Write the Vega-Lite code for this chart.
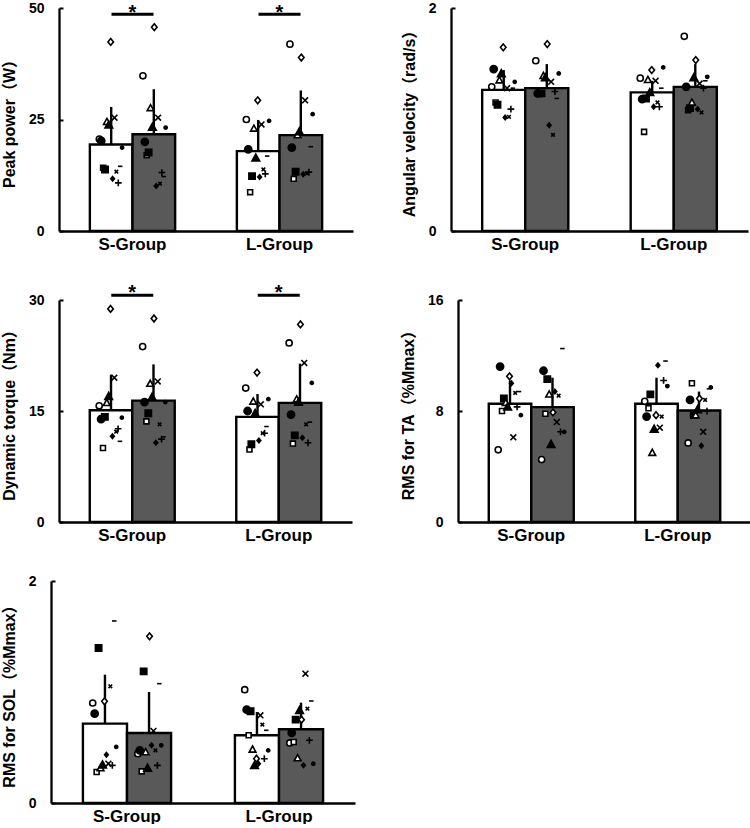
{
"$schema": "https://vega.github.io/schema/vega-lite/v6.json",
"padding": {"left": 1, "top": 1, "right": 0, "bottom": 0},
"spacing": 31,
"datasets": {
"sig": [{"group":"S-Group"},{"group":"L-Group"}],
"power_bars": [{"group":"S-Group","cond":"c1","mean":19.4,"upper":27.8},{"group":"S-Group","cond":"c2","mean":21.7,"upper":31.8},{"group":"L-Group","cond":"c1","mean":17.9,"upper":24.9},{"group":"L-Group","cond":"c2","mean":21.5,"upper":31.5}],
"velocity_bars": [{"group":"S-Group","cond":"c1","mean":1.266,"upper":1.443},{"group":"S-Group","cond":"c2","mean":1.281,"upper":1.497},{"group":"L-Group","cond":"c1","mean":1.243,"upper":1.347},{"group":"L-Group","cond":"c2","mean":1.293,"upper":1.497}],
"torque_bars": [{"group":"S-Group","cond":"c1","mean":15.1,"upper":19.9},{"group":"S-Group","cond":"c2","mean":16.4,"upper":21.3},{"group":"L-Group","cond":"c1","mean":14.2,"upper":17.3},{"group":"L-Group","cond":"c2","mean":16.1,"upper":21.4}],
"ta_bars": [{"group":"S-Group","cond":"c1","mean":8.52,"upper":10.2},{"group":"S-Group","cond":"c2","mean":8.28,"upper":10.4},{"group":"L-Group","cond":"c1","mean":8.52,"upper":10.4},{"group":"L-Group","cond":"c2","mean":8.04,"upper":9.4}],
"sol_bars": [{"group":"S-Group","cond":"c1","mean":0.715,"upper":1.156},{"group":"S-Group","cond":"c2","mean":0.631,"upper":1.0},{"group":"L-Group","cond":"c1","mean":0.61,"upper":0.82},{"group":"L-Group","cond":"c2","mean":0.664,"upper":0.904}],
"power": [
{"group":"S-Group","cond":"c1","subject":1,"obs":"c1-1","value":20.6},{"group":"S-Group","cond":"c1","subject":2,"obs":"c1-2","value":20.2},{"group":"S-Group","cond":"c1","subject":3,"obs":"c1-3","value":14.2},{"group":"S-Group","cond":"c1","subject":4,"obs":"c1-4","value":13.8},{"group":"S-Group","cond":"c1","subject":5,"obs":"c1-5","value":24.5},{"group":"S-Group","cond":"c1","subject":6,"obs":"c1-6","value":23.8},{"group":"S-Group","cond":"c1","subject":7,"obs":"c1-7","value":42.4},{"group":"S-Group","cond":"c1","subject":8,"obs":"c1-8","value":11.7},{"group":"S-Group","cond":"c1","subject":9,"obs":"c1-9","value":25.4},{"group":"S-Group","cond":"c1","subject":10,"obs":"c1-10","value":13.3},{"group":"S-Group","cond":"c1","subject":11,"obs":"c1-11","value":10.8},{"group":"S-Group","cond":"c1","subject":12,"obs":"c1-12","value":14.5},{"group":"S-Group","cond":"c1","subject":13,"obs":"c1-13","value":18.7},
{"group":"S-Group","cond":"c2","subject":1,"obs":"c2-1","value":34.8},{"group":"S-Group","cond":"c2","subject":2,"obs":"c2-2","value":20.0},{"group":"S-Group","cond":"c2","subject":3,"obs":"c2-3","value":17.0},{"group":"S-Group","cond":"c2","subject":4,"obs":"c2-4","value":17.6},{"group":"S-Group","cond":"c2","subject":5,"obs":"c2-5","value":27.6},{"group":"S-Group","cond":"c2","subject":6,"obs":"c2-6","value":23.3},{"group":"S-Group","cond":"c2","subject":7,"obs":"c2-7","value":45.7},{"group":"S-Group","cond":"c2","subject":8,"obs":"c2-8","value":10.1},{"group":"S-Group","cond":"c2","subject":9,"obs":"c2-9","value":25.4},{"group":"S-Group","cond":"c2","subject":10,"obs":"c2-10","value":10.6},{"group":"S-Group","cond":"c2","subject":11,"obs":"c2-11","value":13.1},{"group":"S-Group","cond":"c2","subject":12,"obs":"c2-12","value":12.2},{"group":"S-Group","cond":"c2","subject":13,"obs":"c2-13","value":23.2},
{"group":"L-Group","cond":"c1","subject":1,"obs":"c1-1","value":25.0},{"group":"L-Group","cond":"c1","subject":2,"obs":"c1-2","value":18.3},{"group":"L-Group","cond":"c1","subject":3,"obs":"c1-3","value":8.7},{"group":"L-Group","cond":"c1","subject":4,"obs":"c1-4","value":12.3},{"group":"L-Group","cond":"c1","subject":5,"obs":"c1-5","value":23.0},{"group":"L-Group","cond":"c1","subject":6,"obs":"c1-6","value":16.4},{"group":"L-Group","cond":"c1","subject":7,"obs":"c1-7","value":29.3},{"group":"L-Group","cond":"c1","subject":8,"obs":"c1-8","value":12.1},{"group":"L-Group","cond":"c1","subject":9,"obs":"c1-9","value":23.9},{"group":"L-Group","cond":"c1","subject":10,"obs":"c1-10","value":13.8},{"group":"L-Group","cond":"c1","subject":11,"obs":"c1-11","value":12.8},{"group":"L-Group","cond":"c1","subject":12,"obs":"c1-12","value":16.8},{"group":"L-Group","cond":"c1","subject":13,"obs":"c1-13","value":24.7},
{"group":"L-Group","cond":"c2","subject":1,"obs":"c2-1","value":41.9},{"group":"L-Group","cond":"c2","subject":2,"obs":"c2-2","value":18.7},{"group":"L-Group","cond":"c2","subject":3,"obs":"c2-3","value":11.7},{"group":"L-Group","cond":"c2","subject":4,"obs":"c2-4","value":13.3},{"group":"L-Group","cond":"c2","subject":5,"obs":"c2-5","value":21.5},{"group":"L-Group","cond":"c2","subject":6,"obs":"c2-6","value":22.3},{"group":"L-Group","cond":"c2","subject":7,"obs":"c2-7","value":38.9},{"group":"L-Group","cond":"c2","subject":8,"obs":"c2-8","value":12.7},{"group":"L-Group","cond":"c2","subject":9,"obs":"c2-9","value":29.3},{"group":"L-Group","cond":"c2","subject":10,"obs":"c2-10","value":12.9},{"group":"L-Group","cond":"c2","subject":11,"obs":"c2-11","value":13.2},{"group":"L-Group","cond":"c2","subject":12,"obs":"c2-12","value":18.9},{"group":"L-Group","cond":"c2","subject":13,"obs":"c2-13","value":26.2}
],
"velocity": [
{"group":"S-Group","cond":"c1","subject":1,"obs":"c1-1","value":1.293},{"group":"S-Group","cond":"c1","subject":2,"obs":"c1-2","value":1.452},{"group":"S-Group","cond":"c1","subject":3,"obs":"c1-3","value":1.153},{"group":"S-Group","cond":"c1","subject":4,"obs":"c1-4","value":1.132},{"group":"S-Group","cond":"c1","subject":5,"obs":"c1-5","value":1.353},{"group":"S-Group","cond":"c1","subject":6,"obs":"c1-6","value":1.413},{"group":"S-Group","cond":"c1","subject":7,"obs":"c1-7","value":1.647},{"group":"S-Group","cond":"c1","subject":8,"obs":"c1-8","value":1.018},{"group":"S-Group","cond":"c1","subject":9,"obs":"c1-9","value":1.281},{"group":"S-Group","cond":"c1","subject":10,"obs":"c1-10","value":1.024},{"group":"S-Group","cond":"c1","subject":11,"obs":"c1-11","value":1.093},{"group":"S-Group","cond":"c1","subject":12,"obs":"c1-12","value":1.281},{"group":"S-Group","cond":"c1","subject":13,"obs":"c1-13","value":1.338},
{"group":"S-Group","cond":"c2","subject":1,"obs":"c2-1","value":1.527},{"group":"S-Group","cond":"c2","subject":2,"obs":"c2-2","value":1.234},{"group":"S-Group","cond":"c2","subject":3,"obs":"c2-3","value":1.228},{"group":"S-Group","cond":"c2","subject":4,"obs":"c2-4","value":1.234},{"group":"S-Group","cond":"c2","subject":5,"obs":"c2-5","value":1.392},{"group":"S-Group","cond":"c2","subject":6,"obs":"c2-6","value":1.377},{"group":"S-Group","cond":"c2","subject":7,"obs":"c2-7","value":1.677},{"group":"S-Group","cond":"c2","subject":8,"obs":"c2-8","value":0.949},{"group":"S-Group","cond":"c2","subject":9,"obs":"c2-9","value":1.338},{"group":"S-Group","cond":"c2","subject":10,"obs":"c2-10","value":0.862},{"group":"S-Group","cond":"c2","subject":11,"obs":"c2-11","value":1.251},{"group":"S-Group","cond":"c2","subject":12,"obs":"c2-12","value":1.189},{"group":"S-Group","cond":"c2","subject":13,"obs":"c2-13","value":1.413},
{"group":"L-Group","cond":"c1","subject":1,"obs":"c1-1","value":1.371},{"group":"L-Group","cond":"c1","subject":2,"obs":"c1-2","value":1.183},{"group":"L-Group","cond":"c1","subject":3,"obs":"c1-3","value":0.889},{"group":"L-Group","cond":"c1","subject":4,"obs":"c1-4","value":1.189},{"group":"L-Group","cond":"c1","subject":5,"obs":"c1-5","value":1.356},{"group":"L-Group","cond":"c1","subject":6,"obs":"c1-6","value":1.243},{"group":"L-Group","cond":"c1","subject":7,"obs":"c1-7","value":1.443},{"group":"L-Group","cond":"c1","subject":8,"obs":"c1-8","value":1.114},{"group":"L-Group","cond":"c1","subject":9,"obs":"c1-9","value":1.347},{"group":"L-Group","cond":"c1","subject":10,"obs":"c1-10","value":1.153},{"group":"L-Group","cond":"c1","subject":11,"obs":"c1-11","value":1.114},{"group":"L-Group","cond":"c1","subject":12,"obs":"c1-12","value":1.281},{"group":"L-Group","cond":"c1","subject":13,"obs":"c1-13","value":1.467},
{"group":"L-Group","cond":"c2","subject":1,"obs":"c2-1","value":1.746},{"group":"L-Group","cond":"c2","subject":2,"obs":"c2-2","value":1.293},{"group":"L-Group","cond":"c2","subject":3,"obs":"c2-3","value":1.084},{"group":"L-Group","cond":"c2","subject":4,"obs":"c2-4","value":1.102},{"group":"L-Group","cond":"c2","subject":5,"obs":"c2-5","value":1.153},{"group":"L-Group","cond":"c2","subject":6,"obs":"c2-6","value":1.377},{"group":"L-Group","cond":"c2","subject":7,"obs":"c2-7","value":1.533},{"group":"L-Group","cond":"c2","subject":8,"obs":"c2-8","value":1.093},{"group":"L-Group","cond":"c2","subject":9,"obs":"c2-9","value":1.323},{"group":"L-Group","cond":"c2","subject":10,"obs":"c2-10","value":1.063},{"group":"L-Group","cond":"c2","subject":11,"obs":"c2-11","value":1.281},{"group":"L-Group","cond":"c2","subject":12,"obs":"c2-12","value":1.347},{"group":"L-Group","cond":"c2","subject":13,"obs":"c2-13","value":1.383}
],
"torque": [
{"group":"S-Group","cond":"c1","subject":1,"obs":"c1-1","value":15.7},{"group":"S-Group","cond":"c1","subject":2,"obs":"c1-2","value":13.9},{"group":"S-Group","cond":"c1","subject":3,"obs":"c1-3","value":10.0},{"group":"S-Group","cond":"c1","subject":4,"obs":"c1-4","value":14.2},{"group":"S-Group","cond":"c1","subject":5,"obs":"c1-5","value":16.1},{"group":"S-Group","cond":"c1","subject":6,"obs":"c1-6","value":17.0},{"group":"S-Group","cond":"c1","subject":7,"obs":"c1-7","value":28.8},{"group":"S-Group","cond":"c1","subject":8,"obs":"c1-8","value":11.6},{"group":"S-Group","cond":"c1","subject":9,"obs":"c1-9","value":19.5},{"group":"S-Group","cond":"c1","subject":10,"obs":"c1-10","value":12.2},{"group":"S-Group","cond":"c1","subject":11,"obs":"c1-11","value":12.6},{"group":"S-Group","cond":"c1","subject":12,"obs":"c1-12","value":10.9},{"group":"S-Group","cond":"c1","subject":13,"obs":"c1-13","value":14.1},
{"group":"S-Group","cond":"c2","subject":1,"obs":"c2-1","value":23.7},{"group":"S-Group","cond":"c2","subject":2,"obs":"c2-2","value":16.2},{"group":"S-Group","cond":"c2","subject":3,"obs":"c2-3","value":13.6},{"group":"S-Group","cond":"c2","subject":4,"obs":"c2-4","value":14.7},{"group":"S-Group","cond":"c2","subject":5,"obs":"c2-5","value":18.7},{"group":"S-Group","cond":"c2","subject":6,"obs":"c2-6","value":16.9},{"group":"S-Group","cond":"c2","subject":7,"obs":"c2-7","value":27.5},{"group":"S-Group","cond":"c2","subject":8,"obs":"c2-8","value":10.7},{"group":"S-Group","cond":"c2","subject":9,"obs":"c2-9","value":19.0},{"group":"S-Group","cond":"c2","subject":10,"obs":"c2-10","value":13.2},{"group":"S-Group","cond":"c2","subject":11,"obs":"c2-11","value":11.2},{"group":"S-Group","cond":"c2","subject":12,"obs":"c2-12","value":11.5},{"group":"S-Group","cond":"c2","subject":13,"obs":"c2-13","value":16.2},
{"group":"L-Group","cond":"c1","subject":1,"obs":"c1-1","value":18.1},{"group":"L-Group","cond":"c1","subject":2,"obs":"c1-2","value":15.0},{"group":"L-Group","cond":"c1","subject":3,"obs":"c1-3","value":9.8},{"group":"L-Group","cond":"c1","subject":4,"obs":"c1-4","value":10.5},{"group":"L-Group","cond":"c1","subject":5,"obs":"c1-5","value":16.3},{"group":"L-Group","cond":"c1","subject":6,"obs":"c1-6","value":14.7},{"group":"L-Group","cond":"c1","subject":7,"obs":"c1-7","value":20.2},{"group":"L-Group","cond":"c1","subject":8,"obs":"c1-8","value":11.0},{"group":"L-Group","cond":"c1","subject":9,"obs":"c1-9","value":15.9},{"group":"L-Group","cond":"c1","subject":10,"obs":"c1-10","value":12.0},{"group":"L-Group","cond":"c1","subject":11,"obs":"c1-11","value":12.0},{"group":"L-Group","cond":"c1","subject":12,"obs":"c1-12","value":12.9},{"group":"L-Group","cond":"c1","subject":13,"obs":"c1-13","value":16.6},
{"group":"L-Group","cond":"c2","subject":1,"obs":"c2-1","value":24.2},{"group":"L-Group","cond":"c2","subject":2,"obs":"c2-2","value":14.5},{"group":"L-Group","cond":"c2","subject":3,"obs":"c2-3","value":10.6},{"group":"L-Group","cond":"c2","subject":4,"obs":"c2-4","value":11.7},{"group":"L-Group","cond":"c2","subject":5,"obs":"c2-5","value":16.6},{"group":"L-Group","cond":"c2","subject":6,"obs":"c2-6","value":16.2},{"group":"L-Group","cond":"c2","subject":7,"obs":"c2-7","value":26.7},{"group":"L-Group","cond":"c2","subject":8,"obs":"c2-8","value":11.4},{"group":"L-Group","cond":"c2","subject":9,"obs":"c2-9","value":21.5},{"group":"L-Group","cond":"c2","subject":10,"obs":"c2-10","value":13.2},{"group":"L-Group","cond":"c2","subject":11,"obs":"c2-11","value":10.7},{"group":"L-Group","cond":"c2","subject":12,"obs":"c2-12","value":13.5},{"group":"L-Group","cond":"c2","subject":13,"obs":"c2-13","value":18.8}
],
"ta": [
{"group":"S-Group","cond":"c1","subject":1,"obs":"c1-1","value":5.2},{"group":"S-Group","cond":"c1","subject":2,"obs":"c1-2","value":11.2},{"group":"S-Group","cond":"c1","subject":3,"obs":"c1-3","value":8.0},{"group":"S-Group","cond":"c1","subject":4,"obs":"c1-4","value":8.9},{"group":"S-Group","cond":"c1","subject":5,"obs":"c1-5","value":8.6},{"group":"S-Group","cond":"c1","subject":6,"obs":"c1-6","value":8.3},{"group":"S-Group","cond":"c1","subject":7,"obs":"c1-7","value":10.5},{"group":"S-Group","cond":"c1","subject":8,"obs":"c1-8","value":10.0},{"group":"S-Group","cond":"c1","subject":9,"obs":"c1-9","value":6.1},{"group":"S-Group","cond":"c1","subject":10,"obs":"c1-10","value":9.3},{"group":"S-Group","cond":"c1","subject":11,"obs":"c1-11","value":8.3},{"group":"S-Group","cond":"c1","subject":12,"obs":"c1-12","value":9.4},{"group":"S-Group","cond":"c1","subject":13,"obs":"c1-13","value":7.7},
{"group":"S-Group","cond":"c2","subject":1,"obs":"c2-1","value":4.5},{"group":"S-Group","cond":"c2","subject":2,"obs":"c2-2","value":10.9},{"group":"S-Group","cond":"c2","subject":3,"obs":"c2-3","value":7.8},{"group":"S-Group","cond":"c2","subject":4,"obs":"c2-4","value":10.3},{"group":"S-Group","cond":"c2","subject":5,"obs":"c2-5","value":9.2},{"group":"S-Group","cond":"c2","subject":6,"obs":"c2-6","value":5.6},{"group":"S-Group","cond":"c2","subject":7,"obs":"c2-7","value":7.9},{"group":"S-Group","cond":"c2","subject":8,"obs":"c2-8","value":9.4},{"group":"S-Group","cond":"c2","subject":9,"obs":"c2-9","value":7.2},{"group":"S-Group","cond":"c2","subject":10,"obs":"c2-10","value":9.1},{"group":"S-Group","cond":"c2","subject":11,"obs":"c2-11","value":6.5},{"group":"S-Group","cond":"c2","subject":12,"obs":"c2-12","value":12.5},{"group":"S-Group","cond":"c2","subject":13,"obs":"c2-13","value":6.5},
{"group":"L-Group","cond":"c1","subject":1,"obs":"c1-1","value":8.7},{"group":"L-Group","cond":"c1","subject":2,"obs":"c1-2","value":7.6},{"group":"L-Group","cond":"c1","subject":3,"obs":"c1-3","value":8.2},{"group":"L-Group","cond":"c1","subject":4,"obs":"c1-4","value":9.2},{"group":"L-Group","cond":"c1","subject":5,"obs":"c1-5","value":5.0},{"group":"L-Group","cond":"c1","subject":6,"obs":"c1-6","value":6.7},{"group":"L-Group","cond":"c1","subject":7,"obs":"c1-7","value":7.7},{"group":"L-Group","cond":"c1","subject":8,"obs":"c1-8","value":11.3},{"group":"L-Group","cond":"c1","subject":9,"obs":"c1-9","value":6.8},{"group":"L-Group","cond":"c1","subject":10,"obs":"c1-10","value":7.6},{"group":"L-Group","cond":"c1","subject":11,"obs":"c1-11","value":10.2},{"group":"L-Group","cond":"c1","subject":12,"obs":"c1-12","value":11.6},{"group":"L-Group","cond":"c1","subject":13,"obs":"c1-13","value":9.8},
{"group":"L-Group","cond":"c2","subject":1,"obs":"c2-1","value":5.7},{"group":"L-Group","cond":"c2","subject":2,"obs":"c2-2","value":8.8},{"group":"L-Group","cond":"c2","subject":3,"obs":"c2-3","value":10.0},{"group":"L-Group","cond":"c2","subject":4,"obs":"c2-4","value":7.7},{"group":"L-Group","cond":"c2","subject":5,"obs":"c2-5","value":7.7},{"group":"L-Group","cond":"c2","subject":6,"obs":"c2-6","value":8.1},{"group":"L-Group","cond":"c2","subject":7,"obs":"c2-7","value":8.9},{"group":"L-Group","cond":"c2","subject":8,"obs":"c2-8","value":5.5},{"group":"L-Group","cond":"c2","subject":9,"obs":"c2-9","value":6.5},{"group":"L-Group","cond":"c2","subject":10,"obs":"c2-10","value":8.8},{"group":"L-Group","cond":"c2","subject":11,"obs":"c2-11","value":8.0},{"group":"L-Group","cond":"c2","subject":12,"obs":"c2-12","value":9.6},{"group":"L-Group","cond":"c2","subject":13,"obs":"c2-13","value":9.7}
],
"sol": [
{"group":"S-Group","cond":"c1","subject":1,"obs":"c1-1","value":0.901},{"group":"S-Group","cond":"c1","subject":2,"obs":"c1-2","value":0.805},{"group":"S-Group","cond":"c1","subject":3,"obs":"c1-3","value":0.279},{"group":"S-Group","cond":"c1","subject":4,"obs":"c1-4","value":1.396},{"group":"S-Group","cond":"c1","subject":5,"obs":"c1-5","value":0.315},{"group":"S-Group","cond":"c1","subject":6,"obs":"c1-6","value":0.345},{"group":"S-Group","cond":"c1","subject":7,"obs":"c1-7","value":0.916},{"group":"S-Group","cond":"c1","subject":8,"obs":"c1-8","value":0.435},{"group":"S-Group","cond":"c1","subject":9,"obs":"c1-9","value":0.354},{"group":"S-Group","cond":"c1","subject":10,"obs":"c1-10","value":1.051},{"group":"S-Group","cond":"c1","subject":11,"obs":"c1-11","value":0.339},{"group":"S-Group","cond":"c1","subject":12,"obs":"c1-12","value":1.64},{"group":"S-Group","cond":"c1","subject":13,"obs":"c1-13","value":0.505},
{"group":"S-Group","cond":"c2","subject":1,"obs":"c2-1","value":0.444},{"group":"S-Group","cond":"c2","subject":2,"obs":"c2-2","value":0.474},{"group":"S-Group","cond":"c2","subject":3,"obs":"c2-3","value":0.285},{"group":"S-Group","cond":"c2","subject":4,"obs":"c2-4","value":1.186},{"group":"S-Group","cond":"c2","subject":5,"obs":"c2-5","value":0.459},{"group":"S-Group","cond":"c2","subject":6,"obs":"c2-6","value":0.315},{"group":"S-Group","cond":"c2","subject":7,"obs":"c2-7","value":1.502},{"group":"S-Group","cond":"c2","subject":8,"obs":"c2-8","value":0.52},{"group":"S-Group","cond":"c2","subject":9,"obs":"c2-9","value":0.649},{"group":"S-Group","cond":"c2","subject":10,"obs":"c2-10","value":0.474},{"group":"S-Group","cond":"c2","subject":11,"obs":"c2-11","value":0.339},{"group":"S-Group","cond":"c2","subject":12,"obs":"c2-12","value":1.075},{"group":"S-Group","cond":"c2","subject":13,"obs":"c2-13","value":0.52},
{"group":"L-Group","cond":"c1","subject":1,"obs":"c1-1","value":1.021},{"group":"L-Group","cond":"c1","subject":2,"obs":"c1-2","value":0.841},{"group":"L-Group","cond":"c1","subject":3,"obs":"c1-3","value":0.61},{"group":"L-Group","cond":"c1","subject":4,"obs":"c1-4","value":0.826},{"group":"L-Group","cond":"c1","subject":5,"obs":"c1-5","value":0.483},{"group":"L-Group","cond":"c1","subject":6,"obs":"c1-6","value":0.339},{"group":"L-Group","cond":"c1","subject":7,"obs":"c1-7","value":0.399},{"group":"L-Group","cond":"c1","subject":8,"obs":"c1-8","value":0.354},{"group":"L-Group","cond":"c1","subject":9,"obs":"c1-9","value":0.79},{"group":"L-Group","cond":"c1","subject":10,"obs":"c1-10","value":0.706},{"group":"L-Group","cond":"c1","subject":11,"obs":"c1-11","value":0.399},{"group":"L-Group","cond":"c1","subject":12,"obs":"c1-12","value":0.655},{"group":"L-Group","cond":"c1","subject":13,"obs":"c1-13","value":0.474},
{"group":"L-Group","cond":"c2","subject":1,"obs":"c2-1","value":0.541},{"group":"L-Group","cond":"c2","subject":2,"obs":"c2-2","value":0.631},{"group":"L-Group","cond":"c2","subject":3,"obs":"c2-3","value":0.55},{"group":"L-Group","cond":"c2","subject":4,"obs":"c2-4","value":0.751},{"group":"L-Group","cond":"c2","subject":5,"obs":"c2-5","value":0.405},{"group":"L-Group","cond":"c2","subject":6,"obs":"c2-6","value":0.835},{"group":"L-Group","cond":"c2","subject":7,"obs":"c2-7","value":0.751},{"group":"L-Group","cond":"c2","subject":8,"obs":"c2-8","value":0.339},{"group":"L-Group","cond":"c2","subject":9,"obs":"c2-9","value":1.165},{"group":"L-Group","cond":"c2","subject":10,"obs":"c2-10","value":0.85},{"group":"L-Group","cond":"c2","subject":11,"obs":"c2-11","value":0.565},{"group":"L-Group","cond":"c2","subject":12,"obs":"c2-12","value":0.919},{"group":"L-Group","cond":"c2","subject":13,"obs":"c2-13","value":0.354}
]
},
"vconcat": [
{"hconcat": [
{"width": 294, "height": 223,
 "layer": [
  {"data": {"name": "power_bars"}, "mark": {"type": "bar", "stroke": "black", "strokeWidth": 2.4},
   "encoding": {
    "x": {"field": "group", "type": "nominal", "sort": ["S-Group","L-Group"], "title": null, "scale": {"paddingInner": 0.42, "paddingOuter": 0.21}},
    "xOffset": {"field": "cond", "type": "nominal", "scale": {"domain": ["c1","c2"], "paddingInner": 0, "paddingOuter": 0}},
    "y": {"field": "mean", "type": "quantitative", "title": "Peak power（W）", "scale": {"domain": [0,50], "nice": false}, "axis": {"values": [0,25,50], "format": "d"}},
    "fill": {"field": "cond", "type": "nominal", "scale": {"domain": ["c1","c2"], "range": ["white","#595959"]}, "legend": null}}},
  {"data": {"name": "power_bars"}, "mark": {"type": "rule", "strokeWidth": 2.4, "color": "black"},
   "encoding": {
    "x": {"field": "group", "type": "nominal", "sort": ["S-Group","L-Group"], "title": null},
    "xOffset": {"field": "cond", "type": "nominal", "scale": {"domain": ["c1","c2"], "paddingInner": 0, "paddingOuter": 0}},
    "y": {"field": "mean", "type": "quantitative", "title": "Peak power（W）"}, "y2": {"field": "upper"}}},
  {"data": {"name": "power"}, "mark": {"type": "point", "size": 81, "stroke": "black", "strokeWidth": 1.6, "opacity": 1, "fillOpacity": 1, "strokeOpacity": 1},
   "encoding": {
    "x": {"field": "group", "type": "nominal", "sort": ["S-Group","L-Group"], "title": null},
    "xOffset": {"field": "obs", "type": "nominal", "scale": {"domain": ["a1","a2","a3","a4","a5","c1-1","c1-2","c1-3","c1-4","c1-5","c1-6","c1-7","c1-8","c1-9","c1-10","c1-11","c1-12","c1-13","b1","b2","b3","b4","b5","b6","b7","b8","b9","b10","c2-1","c2-2","c2-3","c2-4","c2-5","c2-6","c2-7","c2-8","c2-9","c2-10","c2-11","c2-12","c2-13","e1","e2","e3","e4","e5"], "paddingInner": 0, "paddingOuter": 0}},
    "y": {"field": "value", "type": "quantitative", "title": "Peak power（W）"},
    "shape": {"field": "subject", "type": "nominal", "legend": null, "scale": {"domain": [1,2,3,4,5,6,7,8,9,10,11,12,13], "range": ["M-0.68,0A0.68,0.68,0,1,0,0.68,0A0.68,0.68,0,1,0,-0.68,0Z","M-0.8,0A0.8,0.8,0,1,0,0.8,0A0.8,0.8,0,1,0,-0.8,0Z","M-0.55,-0.55H0.55V0.55H-0.55Z","M-0.7,-0.7H0.7V0.7H-0.7Z","M0,-0.75L0.75,0.6H-0.75Z","M0,-0.85L0.85,0.7H-0.85Z","M0,-0.75L0.62,0L0,0.75L-0.62,0Z","M0,-0.5L0.42,0L0,0.5L-0.42,0Z","M-0.65,-0.65L0.65,0.65M-0.65,0.65L0.65,-0.65","M-0.4,-0.4L0.4,0.4M-0.4,0.4L0.4,-0.4","M-0.75,0H0.75M0,-0.75V0.75","M-0.5,0H0.5","M-0.35,0A0.35,0.35,0,1,0,0.35,0A0.35,0.35,0,1,0,-0.35,0Z"]}},
    "fill": {"field": "subject", "type": "nominal", "legend": null, "scale": {"domain": [1,2,3,4,5,6,7,8,9,10,11,12,13], "range": ["white","black","white","black","white","black","white","black","black","black","black","black","black"]}}}},
  {"data": {"name": "sig"}, "mark": {"type": "point", "shape": "M-1,0H1", "size": 1764, "strokeWidth": 3, "color": "black", "filled": false, "opacity": 1},
   "encoding": {
    "x": {"field": "group", "type": "nominal", "sort": ["S-Group","L-Group"], "title": null},
    "y": {"datum": 48.6, "type": "quantitative", "title": "Peak power（W）"}}},
  {"data": {"name": "sig"},
   "mark": {"type": "text", "text": "*", "fontSize": 20, "fontWeight": "bold", "font": "Liberation Sans", "baseline": "alphabetic", "color": "black"},
   "encoding": {
    "x": {"field": "group", "type": "nominal", "sort": ["S-Group","L-Group"], "title": null},
    "y": {"datum": 47.6, "type": "quantitative", "title": "Peak power（W）"}}}
 ],
 "resolve": {"scale": {"xOffset": "independent", "fill": "independent"}}},
{"width": 297, "height": 223,
 "layer": [
  {"data": {"name": "velocity_bars"}, "mark": {"type": "bar", "stroke": "black", "strokeWidth": 2.4},
   "encoding": {
    "x": {"field": "group", "type": "nominal", "sort": ["S-Group","L-Group"], "title": null, "scale": {"paddingInner": 0.42, "paddingOuter": 0.21}},
    "xOffset": {"field": "cond", "type": "nominal", "scale": {"domain": ["c1","c2"], "paddingInner": 0, "paddingOuter": 0}},
    "y": {"field": "mean", "type": "quantitative", "title": "Angular velocity（rad/s）", "scale": {"domain": [0,2], "nice": false}, "axis": {"values": [0,1,2], "format": "d"}},
    "fill": {"field": "cond", "type": "nominal", "scale": {"domain": ["c1","c2"], "range": ["white","#595959"]}, "legend": null}}},
  {"data": {"name": "velocity_bars"}, "mark": {"type": "rule", "strokeWidth": 2.4, "color": "black"},
   "encoding": {
    "x": {"field": "group", "type": "nominal", "sort": ["S-Group","L-Group"], "title": null},
    "xOffset": {"field": "cond", "type": "nominal", "scale": {"domain": ["c1","c2"], "paddingInner": 0, "paddingOuter": 0}},
    "y": {"field": "mean", "type": "quantitative", "title": "Angular velocity（rad/s）"}, "y2": {"field": "upper"}}},
  {"data": {"name": "velocity"}, "mark": {"type": "point", "size": 81, "stroke": "black", "strokeWidth": 1.6, "opacity": 1, "fillOpacity": 1, "strokeOpacity": 1},
   "encoding": {
    "x": {"field": "group", "type": "nominal", "sort": ["S-Group","L-Group"], "title": null},
    "xOffset": {"field": "obs", "type": "nominal", "scale": {"domain": ["a1","a2","a3","a4","a5","c1-1","c1-2","c1-3","c1-4","c1-5","c1-6","c1-7","c1-8","c1-9","c1-10","c1-11","c1-12","c1-13","b1","b2","b3","b4","b5","b6","b7","b8","b9","b10","c2-1","c2-2","c2-3","c2-4","c2-5","c2-6","c2-7","c2-8","c2-9","c2-10","c2-11","c2-12","c2-13","e1","e2","e3","e4","e5"], "paddingInner": 0, "paddingOuter": 0}},
    "y": {"field": "value", "type": "quantitative", "title": "Angular velocity（rad/s）"},
    "shape": {"field": "subject", "type": "nominal", "legend": null, "scale": {"domain": [1,2,3,4,5,6,7,8,9,10,11,12,13], "range": ["M-0.68,0A0.68,0.68,0,1,0,0.68,0A0.68,0.68,0,1,0,-0.68,0Z","M-0.8,0A0.8,0.8,0,1,0,0.8,0A0.8,0.8,0,1,0,-0.8,0Z","M-0.55,-0.55H0.55V0.55H-0.55Z","M-0.7,-0.7H0.7V0.7H-0.7Z","M0,-0.75L0.75,0.6H-0.75Z","M0,-0.85L0.85,0.7H-0.85Z","M0,-0.75L0.62,0L0,0.75L-0.62,0Z","M0,-0.5L0.42,0L0,0.5L-0.42,0Z","M-0.65,-0.65L0.65,0.65M-0.65,0.65L0.65,-0.65","M-0.4,-0.4L0.4,0.4M-0.4,0.4L0.4,-0.4","M-0.75,0H0.75M0,-0.75V0.75","M-0.5,0H0.5","M-0.35,0A0.35,0.35,0,1,0,0.35,0A0.35,0.35,0,1,0,-0.35,0Z"]}},
    "fill": {"field": "subject", "type": "nominal", "legend": null, "scale": {"domain": [1,2,3,4,5,6,7,8,9,10,11,12,13], "range": ["white","black","white","black","white","black","white","black","black","black","black","black","black"]}}}}
 ],
 "resolve": {"scale": {"xOffset": "independent", "fill": "independent"}}}
], "spacing": 48},
{"hconcat": [
{"width": 293, "height": 222,
 "layer": [
  {"data": {"name": "torque_bars"}, "mark": {"type": "bar", "stroke": "black", "strokeWidth": 2.4},
   "encoding": {
    "x": {"field": "group", "type": "nominal", "sort": ["S-Group","L-Group"], "title": null, "scale": {"paddingInner": 0.42, "paddingOuter": 0.21}},
    "xOffset": {"field": "cond", "type": "nominal", "scale": {"domain": ["c1","c2"], "paddingInner": 0, "paddingOuter": 0}},
    "y": {"field": "mean", "type": "quantitative", "title": "Dynamic torque（Nm）", "scale": {"domain": [0,30], "nice": false}, "axis": {"values": [0,15,30], "format": "d"}},
    "fill": {"field": "cond", "type": "nominal", "scale": {"domain": ["c1","c2"], "range": ["white","#595959"]}, "legend": null}}},
  {"data": {"name": "torque_bars"}, "mark": {"type": "rule", "strokeWidth": 2.4, "color": "black"},
   "encoding": {
    "x": {"field": "group", "type": "nominal", "sort": ["S-Group","L-Group"], "title": null},
    "xOffset": {"field": "cond", "type": "nominal", "scale": {"domain": ["c1","c2"], "paddingInner": 0, "paddingOuter": 0}},
    "y": {"field": "mean", "type": "quantitative", "title": "Dynamic torque（Nm）"}, "y2": {"field": "upper"}}},
  {"data": {"name": "torque"}, "mark": {"type": "point", "size": 81, "stroke": "black", "strokeWidth": 1.6, "opacity": 1, "fillOpacity": 1, "strokeOpacity": 1},
   "encoding": {
    "x": {"field": "group", "type": "nominal", "sort": ["S-Group","L-Group"], "title": null},
    "xOffset": {"field": "obs", "type": "nominal", "scale": {"domain": ["a1","a2","a3","a4","a5","c1-1","c1-2","c1-3","c1-4","c1-5","c1-6","c1-7","c1-8","c1-9","c1-10","c1-11","c1-12","c1-13","b1","b2","b3","b4","b5","b6","b7","b8","b9","b10","c2-1","c2-2","c2-3","c2-4","c2-5","c2-6","c2-7","c2-8","c2-9","c2-10","c2-11","c2-12","c2-13","e1","e2","e3","e4","e5"], "paddingInner": 0, "paddingOuter": 0}},
    "y": {"field": "value", "type": "quantitative", "title": "Dynamic torque（Nm）"},
    "shape": {"field": "subject", "type": "nominal", "legend": null, "scale": {"domain": [1,2,3,4,5,6,7,8,9,10,11,12,13], "range": ["M-0.68,0A0.68,0.68,0,1,0,0.68,0A0.68,0.68,0,1,0,-0.68,0Z","M-0.8,0A0.8,0.8,0,1,0,0.8,0A0.8,0.8,0,1,0,-0.8,0Z","M-0.55,-0.55H0.55V0.55H-0.55Z","M-0.7,-0.7H0.7V0.7H-0.7Z","M0,-0.75L0.75,0.6H-0.75Z","M0,-0.85L0.85,0.7H-0.85Z","M0,-0.75L0.62,0L0,0.75L-0.62,0Z","M0,-0.5L0.42,0L0,0.5L-0.42,0Z","M-0.65,-0.65L0.65,0.65M-0.65,0.65L0.65,-0.65","M-0.4,-0.4L0.4,0.4M-0.4,0.4L0.4,-0.4","M-0.75,0H0.75M0,-0.75V0.75","M-0.5,0H0.5","M-0.35,0A0.35,0.35,0,1,0,0.35,0A0.35,0.35,0,1,0,-0.35,0Z"]}},
    "fill": {"field": "subject", "type": "nominal", "legend": null, "scale": {"domain": [1,2,3,4,5,6,7,8,9,10,11,12,13], "range": ["white","black","white","black","white","black","white","black","black","black","black","black","black"]}}}},
  {"data": {"name": "sig"}, "mark": {"type": "point", "shape": "M-1,0H1", "size": 1764, "strokeWidth": 3, "color": "black", "filled": false, "opacity": 1},
   "encoding": {
    "x": {"field": "group", "type": "nominal", "sort": ["S-Group","L-Group"], "title": null},
    "y": {"datum": 30.64, "type": "quantitative", "title": "Dynamic torque（Nm）"}}},
  {"data": {"name": "sig"},
   "mark": {"type": "text", "text": "*", "fontSize": 20, "fontWeight": "bold", "font": "Liberation Sans", "baseline": "alphabetic", "color": "black"},
   "encoding": {
    "x": {"field": "group", "type": "nominal", "sort": ["S-Group","L-Group"], "title": null},
    "y": {"datum": 30.1, "type": "quantitative", "title": "Dynamic torque（Nm）"}}}
 ],
 "resolve": {"scale": {"xOffset": "independent", "fill": "independent"}}},
{"width": 293, "height": 222,
 "layer": [
  {"data": {"name": "ta_bars"}, "mark": {"type": "bar", "stroke": "black", "strokeWidth": 2.4},
   "encoding": {
    "x": {"field": "group", "type": "nominal", "sort": ["S-Group","L-Group"], "title": null, "scale": {"paddingInner": 0.42, "paddingOuter": 0.21}},
    "xOffset": {"field": "cond", "type": "nominal", "scale": {"domain": ["c1","c2"], "paddingInner": 0, "paddingOuter": 0}},
    "y": {"field": "mean", "type": "quantitative", "title": "RMS for TA（%Mmax）", "scale": {"domain": [0,16], "nice": false}, "axis": {"values": [0,8,16], "format": "d"}},
    "fill": {"field": "cond", "type": "nominal", "scale": {"domain": ["c1","c2"], "range": ["white","#595959"]}, "legend": null}}},
  {"data": {"name": "ta_bars"}, "mark": {"type": "rule", "strokeWidth": 2.4, "color": "black"},
   "encoding": {
    "x": {"field": "group", "type": "nominal", "sort": ["S-Group","L-Group"], "title": null},
    "xOffset": {"field": "cond", "type": "nominal", "scale": {"domain": ["c1","c2"], "paddingInner": 0, "paddingOuter": 0}},
    "y": {"field": "mean", "type": "quantitative", "title": "RMS for TA（%Mmax）"}, "y2": {"field": "upper"}}},
  {"data": {"name": "ta"}, "mark": {"type": "point", "size": 81, "stroke": "black", "strokeWidth": 1.6, "opacity": 1, "fillOpacity": 1, "strokeOpacity": 1},
   "encoding": {
    "x": {"field": "group", "type": "nominal", "sort": ["S-Group","L-Group"], "title": null},
    "xOffset": {"field": "obs", "type": "nominal", "scale": {"domain": ["a1","a2","a3","a4","a5","c1-1","c1-2","c1-3","c1-4","c1-5","c1-6","c1-7","c1-8","c1-9","c1-10","c1-11","c1-12","c1-13","b1","b2","b3","b4","b5","b6","b7","b8","b9","b10","c2-1","c2-2","c2-3","c2-4","c2-5","c2-6","c2-7","c2-8","c2-9","c2-10","c2-11","c2-12","c2-13","e1","e2","e3","e4","e5"], "paddingInner": 0, "paddingOuter": 0}},
    "y": {"field": "value", "type": "quantitative", "title": "RMS for TA（%Mmax）"},
    "shape": {"field": "subject", "type": "nominal", "legend": null, "scale": {"domain": [1,2,3,4,5,6,7,8,9,10,11,12,13], "range": ["M-0.68,0A0.68,0.68,0,1,0,0.68,0A0.68,0.68,0,1,0,-0.68,0Z","M-0.8,0A0.8,0.8,0,1,0,0.8,0A0.8,0.8,0,1,0,-0.8,0Z","M-0.55,-0.55H0.55V0.55H-0.55Z","M-0.7,-0.7H0.7V0.7H-0.7Z","M0,-0.75L0.75,0.6H-0.75Z","M0,-0.85L0.85,0.7H-0.85Z","M0,-0.75L0.62,0L0,0.75L-0.62,0Z","M0,-0.5L0.42,0L0,0.5L-0.42,0Z","M-0.65,-0.65L0.65,0.65M-0.65,0.65L0.65,-0.65","M-0.4,-0.4L0.4,0.4M-0.4,0.4L0.4,-0.4","M-0.75,0H0.75M0,-0.75V0.75","M-0.5,0H0.5","M-0.35,0A0.35,0.35,0,1,0,0.35,0A0.35,0.35,0,1,0,-0.35,0Z"]}},
    "fill": {"field": "subject", "type": "nominal", "legend": null, "scale": {"domain": [1,2,3,4,5,6,7,8,9,10,11,12,13], "range": ["white","black","white","black","white","black","white","black","black","black","black","black","black"]}}}}
 ],
 "resolve": {"scale": {"xOffset": "independent", "fill": "independent"}}}
], "spacing": 48},
{"hconcat": [
{"width": 296, "height": 222,
 "layer": [
  {"data": {"name": "sol_bars"}, "mark": {"type": "bar", "stroke": "black", "strokeWidth": 2.4},
   "encoding": {
    "x": {"field": "group", "type": "nominal", "sort": ["S-Group","L-Group"], "title": null, "scale": {"paddingInner": 0.42, "paddingOuter": 0.21, "range": [-8, 296]}},
    "xOffset": {"field": "cond", "type": "nominal", "scale": {"domain": ["c1","c2"], "paddingInner": 0, "paddingOuter": 0}},
    "y": {"field": "mean", "type": "quantitative", "title": "RMS for SOL（%Mmax）", "scale": {"domain": [0,2], "nice": false}, "axis": {"values": [0,1,2], "format": "d", "offset": 8}},
    "fill": {"field": "cond", "type": "nominal", "scale": {"domain": ["c1","c2"], "range": ["white","#595959"]}, "legend": null}}},
  {"data": {"name": "sol_bars"}, "mark": {"type": "rule", "strokeWidth": 2.4, "color": "black"},
   "encoding": {
    "x": {"field": "group", "type": "nominal", "sort": ["S-Group","L-Group"], "title": null},
    "xOffset": {"field": "cond", "type": "nominal", "scale": {"domain": ["c1","c2"], "paddingInner": 0, "paddingOuter": 0}},
    "y": {"field": "mean", "type": "quantitative", "title": "RMS for SOL（%Mmax）"}, "y2": {"field": "upper"}}},
  {"data": {"name": "sol"}, "mark": {"type": "point", "size": 81, "stroke": "black", "strokeWidth": 1.6, "opacity": 1, "fillOpacity": 1, "strokeOpacity": 1},
   "encoding": {
    "x": {"field": "group", "type": "nominal", "sort": ["S-Group","L-Group"], "title": null},
    "xOffset": {"field": "obs", "type": "nominal", "scale": {"domain": ["a1","a2","a3","a4","a5","c1-1","c1-2","c1-3","c1-4","c1-5","c1-6","c1-7","c1-8","c1-9","c1-10","c1-11","c1-12","c1-13","b1","b2","b3","b4","b5","b6","b7","b8","b9","b10","c2-1","c2-2","c2-3","c2-4","c2-5","c2-6","c2-7","c2-8","c2-9","c2-10","c2-11","c2-12","c2-13","e1","e2","e3","e4","e5"], "paddingInner": 0, "paddingOuter": 0}},
    "y": {"field": "value", "type": "quantitative", "title": "RMS for SOL（%Mmax）"},
    "shape": {"field": "subject", "type": "nominal", "legend": null, "scale": {"domain": [1,2,3,4,5,6,7,8,9,10,11,12,13], "range": ["M-0.68,0A0.68,0.68,0,1,0,0.68,0A0.68,0.68,0,1,0,-0.68,0Z","M-0.8,0A0.8,0.8,0,1,0,0.8,0A0.8,0.8,0,1,0,-0.8,0Z","M-0.55,-0.55H0.55V0.55H-0.55Z","M-0.7,-0.7H0.7V0.7H-0.7Z","M0,-0.75L0.75,0.6H-0.75Z","M0,-0.85L0.85,0.7H-0.85Z","M0,-0.75L0.62,0L0,0.75L-0.62,0Z","M0,-0.5L0.42,0L0,0.5L-0.42,0Z","M-0.65,-0.65L0.65,0.65M-0.65,0.65L0.65,-0.65","M-0.4,-0.4L0.4,0.4M-0.4,0.4L0.4,-0.4","M-0.75,0H0.75M0,-0.75V0.75","M-0.5,0H0.5","M-0.35,0A0.35,0.35,0,1,0,0.35,0A0.35,0.35,0,1,0,-0.35,0Z"]}},
    "fill": {"field": "subject", "type": "nominal", "legend": null, "scale": {"domain": [1,2,3,4,5,6,7,8,9,10,11,12,13], "range": ["white","black","white","black","white","black","white","black","black","black","black","black","black"]}}}}
 ],
 "resolve": {"scale": {"xOffset": "independent", "fill": "independent"}}}
]}
],
"config": {
 "view": {"stroke": null},
 "font": "Liberation Sans",
 "axis": {"grid": false, "domainColor": "black", "domainWidth": 2.3, "tickColor": "black", "tickWidth": 2, "labelColor": "black", "titleColor": "black", "labelFont": "Liberation Sans", "labelFontWeight": "bold", "titleFont": "Liberation Sans, Noto Sans CJK JP", "titleFontWeight": "bold"},
 "axisX": {"ticks": false, "tickSize": 0, "labelFontSize": 17, "labelPadding": 5, "labelAngle": 0},
 "axisY": {"tickSize": -4, "labelFontSize": 14, "labelPadding": 19, "titleFontSize": 16, "titlePadding": 11}
}
}
